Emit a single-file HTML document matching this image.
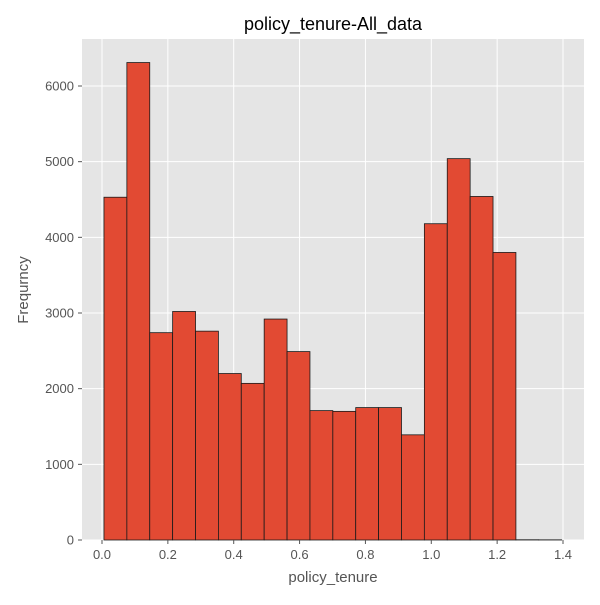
<!DOCTYPE html>
<html><head><meta charset="utf-8"><style>
body{margin:0;background:#fff;}
svg text{font-family:"Liberation Sans","DejaVu Sans",sans-serif;}
</style></head><body>
<svg id="chart" width="600" height="600">
<rect x="0" y="0" width="600" height="600" fill="#fff"/>
<rect x="82" y="39" width="502" height="501" fill="#E5E5E5"/>
<g id="grid"></g><g id="bars"></g><g id="ticks"></g>
<text x="333" y="30" text-anchor="middle" font-size="18" fill="#000">policy_tenure-All_data</text>
<text x="333" y="582" text-anchor="middle" font-size="15" fill="#555">policy_tenure</text>
<text x="28" y="290" text-anchor="middle" font-size="15" fill="#555" transform="rotate(-90 28 290)">Frequrncy</text>
</svg>
<script>
const binStart = 0.006;
const binWidth = 0.0695;
const counts = [4530, 6310, 2740, 3020, 2760, 2200, 2070, 2920, 2490, 1710, 1700, 1750, 1750, 1390, 4180, 5040, 4540, 3800, 3, 2];
const xTicks = [0.0, 0.2, 0.4, 0.6, 0.8, 1.0, 1.2, 1.4];
const xTickLabels = ["0.0", "0.2", "0.4", "0.6", "0.8", "1.0", "1.2", "1.4"];
const yTicks = [0, 1000, 2000, 3000, 4000, 5000, 6000];

const NS = "http://www.w3.org/2000/svg";
function xs(v){ return 102 + v * (461 / 1.4); }
function ys(v){ return 540 - v * (454 / 6000); }
function mk(tag, attrs, parent){
  const e = document.createElementNS(NS, tag);
  for (const k in attrs) e.setAttribute(k, attrs[k]);
  parent.appendChild(e);
  return e;
}
const grid = document.getElementById('grid');
const bars = document.getElementById('bars');
const ticks = document.getElementById('ticks');
xTicks.forEach((t, i) => {
  const x = xs(t);
  const g = mk('line', {x1: x, x2: x, y1: 39, y2: 540, stroke: '#fff', 'stroke-width': 1}, grid);
  
  
  const tk = mk('line', {x1: x, x2: x, y1: 540, y2: 544, stroke: '#555'}, ticks);
  
  
  const tx = mk('text', {x: x, y: 559, 'text-anchor': 'middle', 'font-size': 13, fill: '#555'}, ticks);
  tx.textContent = xTickLabels[i];
  
  
});
yTicks.forEach(t => {
  const y = ys(t);
  const g = mk('line', {x1: 82, x2: 584, y1: y, y2: y, stroke: '#fff', 'stroke-width': 1}, grid);
  
  
  const tk = mk('line', {x1: 78, x2: 82, y1: y, y2: y, stroke: '#555'}, ticks);
  
  
  const tx = mk('text', {x: 74, y: y + 4.5, 'text-anchor': 'end', 'font-size': 13, fill: '#555'}, ticks);
  tx.textContent = String(t);
  
  
});
counts.forEach((c, i) => {
  const x0 = xs(binStart + i * binWidth), x1 = xs(binStart + (i + 1) * binWidth);
  const y = ys(c);
  const r = mk('rect', {x: x0, y: y, width: x1 - x0, height: 540 - y, fill: '#E24A33', stroke: '#1a1a1a', 'stroke-width': 0.8}, bars);
  
  
});
</script>
</body></html>
